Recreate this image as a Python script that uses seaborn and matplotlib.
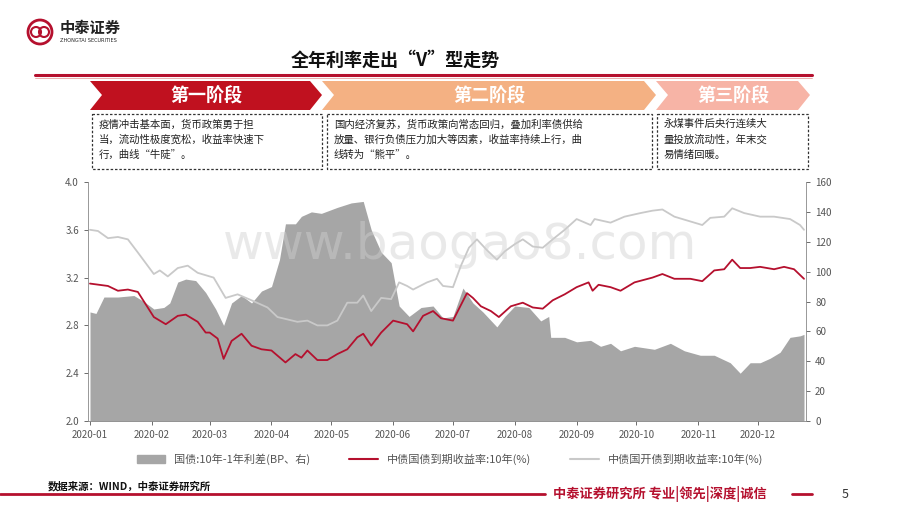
import numpy as np
import pandas as pd
import matplotlib
matplotlib.use("Agg")
import matplotlib.pyplot as plt
from matplotlib.patches import Polygon, Rectangle, Circle
import seaborn as sns

sns.set_theme(style="white")
plt.rcParams['font.family'] = ['Noto Sans CJK SC', 'DejaVu Sans']

# ---- data (day offsets from 2020-01-01) ----
red_days = [0,9,14,19,24,32,38,44,48,54,58,60,64,67,71,76,81,86,91,98,103,106,109,114,119,124,129,134,137,141,146,152,159,162,167,172,176,182,189,192,196,201,205,211,217,222,227,232,238,244,250,252,255,261,266,273,282,287,293,301,307,313,318,322,326,331,336,343,348,353,358]
red_vals = [3.15,3.13,3.09,3.10,3.08,2.87,2.81,2.88,2.89,2.83,2.74,2.74,2.69,2.52,2.67,2.73,2.63,2.60,2.59,2.49,2.56,2.53,2.59,2.51,2.51,2.56,2.60,2.70,2.73,2.63,2.74,2.84,2.81,2.75,2.88,2.92,2.86,2.84,3.07,3.03,2.96,2.92,2.87,2.96,2.99,2.95,2.94,3.01,3.06,3.12,3.16,3.09,3.14,3.12,3.09,3.16,3.20,3.23,3.19,3.19,3.17,3.26,3.27,3.35,3.28,3.28,3.29,3.27,3.29,3.27,3.19]
gray_days = [0,4,9,14,19,24,32,35,39,44,49,54,62,68,74,81,89,94,99,104,109,114,119,124,129,134,137,141,146,151,155,159,162,169,174,177,182,186,190,194,199,204,208,213,217,222,227,232,238,244,251,253,261,268,276,282,287,293,301,307,311,318,322,328,336,343,351,356,358]
gray_vals = [3.60,3.59,3.53,3.54,3.52,3.41,3.23,3.26,3.21,3.28,3.30,3.24,3.20,3.03,3.06,3.01,2.95,2.87,2.85,2.83,2.84,2.80,2.80,2.84,2.99,2.99,3.05,2.92,3.03,3.02,3.16,3.13,3.10,3.16,3.19,3.13,3.12,3.30,3.45,3.52,3.43,3.35,3.42,3.48,3.52,3.46,3.45,3.52,3.60,3.69,3.64,3.69,3.66,3.71,3.74,3.76,3.77,3.71,3.67,3.64,3.70,3.71,3.78,3.74,3.71,3.71,3.69,3.64,3.60]
area_days = [0,3,7,14,22,27,32,37,40,44,48,53,58,63,67,71,76,81,86,91,95,98,103,106,111,116,124,131,137,141,146,151,155,160,166,172,177,182,187,192,197,204,208,213,220,226,230,231,238,244,251,256,261,266,273,283,291,298,306,313,321,326,331,336,341,346,351,356,358]
area_vals = [73,72,83,83,84,80,75,76,79,93,95,94,86,75,64,79,84,79,87,90,108,132,132,137,140,139,143,146,147,128,113,106,77,70,76,77,69,70,89,79,73,63,70,77,76,67,70,56,56,53,54,50,52,47,50,48,52,47,44,44,39,32,39,39,42,46,56,57,58]
month_labels = ["2020-%02d" % m for m in range(1, 13)]
stages = ["第一阶段", "第二阶段", "第三阶段"]
stage_texts = ["疫情冲击基本面，货币政策勇于担\n当，流动性极度宽松，收益率快速下\n行，曲线“牛陡”。",
               "国内经济复苏，货币政策向常态回归，叠加利率债供给\n放量、银行负债压力加大等因素，收益率持续上行，曲\n线转为“熊平”。",
               "永煤事件后央行连续大\n量投放流动性，年末交\n易情绪回暖。"]
legend_labels = ["国债:10年-1年利差(BP、右)", "中债国债到期收益率:10年(%)", "中债国开债到期收益率:10年(%)"]

base = pd.Timestamp("2020-01-01")
red = pd.DataFrame({"date": base + pd.to_timedelta(red_days, unit="D"), "v": red_vals})
gray = pd.DataFrame({"date": base + pd.to_timedelta(gray_days, unit="D"), "v": gray_vals})
area = pd.DataFrame({"date": base + pd.to_timedelta(area_days, unit="D"), "v": area_vals})

W, H = 920, 518
fig = plt.figure(figsize=(9.2, 5.18), dpi=100)
fig.patch.set_facecolor("white")

RED = "#B5102E"
ax = fig.add_axes([88/W, 1-421/H, (806-88)/W, (421-182)/H])
ax2 = ax.twinx()
ax2.fill_between(area["date"], area["v"], 0, color="#A6A6A6", lw=0)
sns.lineplot(data=gray, x="date", y="v", ax=ax, color="#C9C9C9", lw=1.3, zorder=3)
sns.lineplot(data=red, x="date", y="v", ax=ax, color=RED, lw=1.3, zorder=4)
ax.set_zorder(ax2.get_zorder() + 1)
ax.patch.set_visible(False)
ax.set_ylim(2.0, 4.0)
ax2.set_ylim(0, 160)
ax.set_yticks(np.arange(2.0, 4.01, 0.4))
ax.set_yticklabels(["%.1f" % v for v in np.arange(2.0, 4.01, 0.4)])
ax2.set_yticks(range(0, 161, 20))
xt = [base + pd.DateOffset(months=i) for i in range(12)]
ax.set_xticks(xt)
ax.set_xticklabels(month_labels)
ax.set_xlim(base - pd.Timedelta(days=1), base + pd.Timedelta(days=359))
ax.set_xlabel(""); ax.set_ylabel(""); ax2.set_ylabel("")
for a in (ax, ax2):
    for s in a.spines.values():
        s.set_visible(False)
    a.tick_params(labelsize=7, colors="#555555", length=3, width=0.6)
ax.spines["left"].set_visible(True); ax.spines["left"].set_color("#888888"); ax.spines["left"].set_linewidth(0.6)
ax.spines["bottom"].set_visible(True); ax.spines["bottom"].set_color("#888888"); ax.spines["bottom"].set_linewidth(0.6)
ax2.spines["right"].set_visible(True); ax2.spines["right"].set_color("#888888"); ax2.spines["right"].set_linewidth(0.6)
ax.tick_params(axis="y", left=True, direction="out")
ax.tick_params(axis="x", bottom=True, direction="out")
ax2.tick_params(axis="y", right=True, direction="out")

# watermark
fig.text(460/W, 1-245/H, "www.baogao8.com", fontsize=36, color="#D0D0D0", alpha=0.45, ha="center", va="center", family="DejaVu Sans")

# legend
from matplotlib.patches import Patch
from matplotlib.lines import Line2D
handles = [Patch(color="#A6A6A6"), Line2D([], [], color=RED, lw=1.5), Line2D([], [], color="#C9C9C9", lw=1.5)]
fig.legend(handles, legend_labels, loc="center", bbox_to_anchor=(450/W, 1-459/H), ncol=3, frameon=False,
           fontsize=8, handlelength=2.6, columnspacing=3.5, labelcolor="#555555")

# overlay for header/footer
ov = fig.add_axes([0, 0, 1, 1]); ov.set_xlim(0, W); ov.set_ylim(H, 0); ov.axis("off")
ov.add_patch(Circle((40, 32), 12, fill=False, ec=RED, lw=2))
ov.add_patch(Circle((36, 32), 5, fill=False, ec=RED, lw=1.5))
ov.add_patch(Circle((44, 32), 5, fill=False, ec=RED, lw=1.5))
ov.text(60, 28, "中泰证券", fontsize=11, fontweight="bold", color="#222222", va="center")
ov.text(60, 41, "ZHONGTAI SECURITIES", fontsize=3.6, color="#222222", va="center", family="DejaVu Sans")
ov.text(395, 60, "全年利率走出“V”型走势", fontsize=13, fontweight="bold", color="#111111", ha="center", va="center")
ov.plot([35, 812], [75, 75], color=RED, lw=2.2)
ov.plot([35, 812], [77.5, 77.5], color="#E8A0A0", lw=0.6)
chev = [(90, 322, "#C0111F", "white"), (322, 656, "#F4B183", "white"), (656, 810, "#F7B4A6", "white")]
for (x0, x1, c, tc), lab in zip(chev, stages):
    pts = [(x0, 81), (x1 - 12, 81), (x1, 95), (x1 - 12, 110), (x0, 110), (x0 + 12, 95)]
    ov.add_patch(Polygon(pts, closed=True, color=c, lw=0))
    ov.text((x0 + x1) / 2, 96, lab, fontsize=13, fontweight="bold", color=tc, ha="center", va="center")
boxes = [(92, 322), (327, 652), (657, 808)]
for (x0, x1), t in zip(boxes, stage_texts):
    ov.add_patch(Rectangle((x0, 114), x1 - x0, 55, fill=False, ec="#333333", lw=0.9, ls=(0, (2, 1.5))))
    ov.text(x0 + 7, 119, t, fontsize=7.5, color="#222222", va="top", ha="left", linespacing=1.6)
ov.text(48, 486, "数据来源：WIND，中泰证券研究所", fontsize=7.5, fontweight="bold", color="#111111", va="center")
ov.plot([0, 545], [494, 494], color=RED, lw=2)
ov.text(553, 494, "中泰证券研究所 专业|领先|深度|诚信", fontsize=9.5, fontweight="bold", color=RED, va="center")
ov.plot([792, 812], [494, 494], color=RED, lw=2)
ov.text(845, 494, "5", fontsize=9, color="#333333", va="center", ha="center")

fig.savefig("out.png", dpi=100, facecolor="white")
